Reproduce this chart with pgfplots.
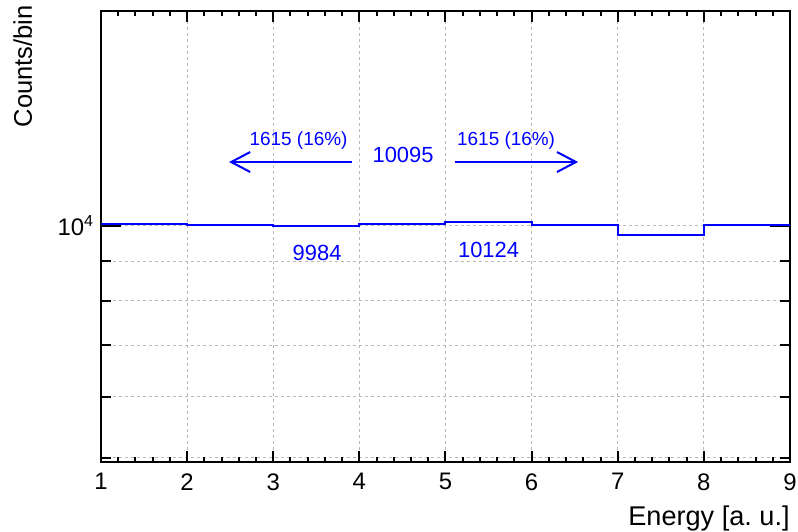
\documentclass[border=0pt]{standalone}
\usepackage{pgfplots}
\pgfplotsset{compat=1.18}
\usepackage{fontspec}
\setmainfont{Liberation Sans}
\usetikzlibrary{arrows.meta}
\definecolor{rootblue}{RGB}{0,0,255}
\begin{document}
\begin{tikzpicture}[x=1bp,y=1bp]
% y ticks (longer)
\begin{axis}[
  at={(0,0)}, anchor=south west,
  scale only axis, width=344.5bp, height=225.5bp,
  xmin=1, xmax=9, ymode=log, ymin=4940, ymax=19000,
  axis line style={line width=1.2bp},
  tick style={black, line width=1bp},
  ticklabel style={font=\fontsize{12}{14}\selectfont},
  xtick=\empty,
  ytick={10000}, yticklabels={10\textsuperscript{4}},
  minor ytick={5000,6000,7000,8000,9000},
  major tick length=10bp, minor tick length=5bp,
  ymajorgrids, yminorgrids,
  grid style={gray!55, line width=0.5bp, dash pattern=on 1.5bp off 1.5bp},
]
\end{axis}
% x ticks and data
\begin{axis}[
  at={(0,0)}, anchor=south west,
  scale only axis, width=344.5bp, height=225.5bp,
  xmin=1, xmax=9, ymode=log, ymin=4940, ymax=19000,
  axis line style={line width=1.2bp},
  tick style={black, line width=1bp},
  /pgf/number format/assume math mode=true,
  ticklabel style={font=\fontsize{12}{14}\selectfont},
  xticklabel style={yshift=-2.2bp},
  xtick={1,2,3,4,5,6,7,8,9}, minor x tick num=4,
  ytick=\empty,
  major tick length=5.5bp, minor tick length=2.6bp,
  xmajorgrids,
  grid style={gray!55, line width=0.5bp, dash pattern=on 1.5bp off 1.5bp},
]
\addplot[const plot, rootblue, line width=1bp] coordinates {
  (1,10069) (2,10030) (3,9984) (4,10069) (5,10124) (6,10030) (7,9735) (8,10039) (9,10039)
};
\node[anchor=base, font=\fontsize{9.5}{10}\selectfont, text=rootblue] at (axis cs:3.294,12700) {1615 (16\%)};
\node[anchor=base, font=\fontsize{9.5}{10}\selectfont, text=rootblue] at (axis cs:5.704,12700) {1615 (16\%)};
\node[anchor=base, font=\fontsize{11}{12}\selectfont, text=rootblue] at (axis cs:4.507,12080) {10095};
\node[anchor=base, font=\fontsize{11}{12}\selectfont, text=rootblue] at (axis cs:3.509,9016) {9984};
\node[anchor=base, font=\fontsize{11}{12}\selectfont, text=rootblue] at (axis cs:5.50,9096) {10124};
\draw[rootblue, line width=1bp, -{Straight Barb[length=9.5bp,width=10bp]}] (axis cs:3.915,12100) -- (axis cs:2.487,12100);
\draw[rootblue, line width=1bp, -{Straight Barb[length=9.5bp,width=10bp]}] (axis cs:5.111,12100) -- (axis cs:6.540,12100);
\end{axis}
\node[anchor=base east, inner sep=0pt, font=\fontsize{13.6}{15}\selectfont] at (344.5,-31.5) {Energy [a.\ u.]};
\node[rotate=90, anchor=base east, inner sep=0pt, font=\fontsize{12.8}{14}\selectfont] at (-34.5,228.5) {Counts/bin};
\pgfresetboundingbox
\path (-50.5,-35) rectangle (348.5,231);
\end{tikzpicture}
\end{document}
